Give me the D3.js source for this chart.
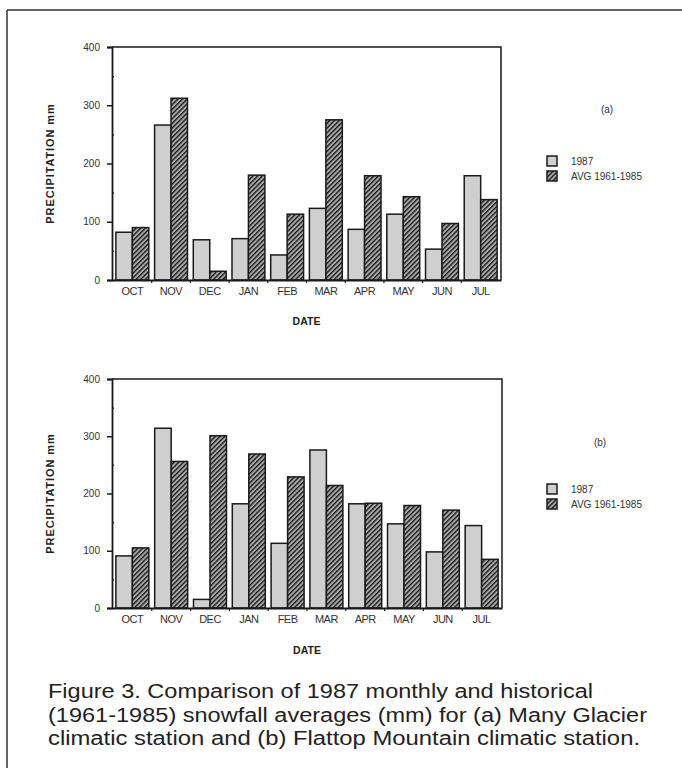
<!DOCTYPE html>
<html><head><meta charset="utf-8">
<script src="https://cdn.jsdelivr.net/npm/d3@7"></script>
<style>body{margin:0;background:#fff}svg{display:block}</style>
</head><body>
<svg id="c" width="682" height="768"></svg>
<script>
const months = ["OCT","NOV","DEC","JAN","FEB","MAR","APR","MAY","JUN","JUL"];
const seriesNames = ["1987","AVG 1961-1985"];
const yTicks = [0,100,200,300,400];
const a1987 = [82,266,69,71,43,123,87,113,53,179];
const aAvg  = [90,312,15,180,113,275,179,143,97,138];
const b1987 = [91,314,15,182,113,276,182,147,98,144];
const bAvg  = [105,256,301,269,229,214,183,179,171,85];
const panelLabels = ["(a)","(b)"];
const captionLines = [
 "Figure 3. Comparison of 1987 monthly and historical",
 "(1961-1985) snowfall averages (mm) for (a) Many Glacier",
 "climatic station and (b) Flattop Mountain climatic station."
];

const svg = d3.select("#c");
const ink = "#1a1a1a";
const defs = svg.append("defs");
const pat = defs.append("pattern").attr("id","hatch").attr("patternUnits","userSpaceOnUse")
  .attr("width",3.3).attr("height",3.3).attr("patternTransform","rotate(45)");
pat.append("rect").attr("width",3.3).attr("height",3.3).attr("fill","#a8a8a8");
pat.append("line").attr("x1",0).attr("y1",0).attr("x2",0).attr("y2",3.3)
  .attr("stroke","#111").attr("stroke-width",2.6);

svg.append("line").attr("x1",7).attr("x2",682).attr("y1",10).attr("y2",10).attr("stroke","#333").attr("stroke-width",1.5);
svg.append("line").attr("x1",7).attr("x2",7).attr("y1",10).attr("y2",768).attr("stroke","#333").attr("stroke-width",1.5);

const font = "Liberation Sans, Arial, sans-serif";

function panel(cfg){
  const {x0,x1,yBot,yTop,d1,d2,label,labelPos,legY,titleY} = cfg;
  const g = svg.append("g");
  const x = d3.scaleBand().domain(months).range([x0,x1]).paddingInner(0.15).paddingOuter(0.1);
  const xs = d3.scaleBand().domain([0,1]).range([0,x.bandwidth()]);
  const y = d3.scaleLinear().domain([0,400]).range([yBot,yTop]);
  const data = months.map((m,i)=>({m,v:[d1[i],d2[i]]}));
  const grp = g.selectAll("g.m").data(data).join("g").attr("transform",d=>`translate(${x(d.m)},0)`);
  grp.selectAll("rect").data(d=>d.v.map((v,k)=>({v,k}))).join("rect")
    .attr("x",d=>xs(d.k)).attr("width",xs.bandwidth())
    .attr("y",d=>y(d.v)).attr("height",d=>y(0)-y(d.v))
    .attr("fill",d=>d.k===0?"#cfcfcf":"url(#hatch)")
    .attr("stroke",ink).attr("stroke-width",1.5);
  g.append("path").attr("d",`M${x0},${y(400)}H${x1}V${y(0)}`).attr("fill","none").attr("stroke",ink).attr("stroke-width",1.5);
  const ya = g.append("g").attr("transform",`translate(${x0},0)`)
    .call(d3.axisLeft(y).tickValues(yTicks).tickSize(5).tickPadding(7));
  ya.select(".domain").attr("stroke",ink).attr("stroke-width",1.8);
  ya.selectAll(".tick line").attr("stroke",ink).attr("stroke-width",1.5);
  ya.selectAll("text").attr("font-family",font).attr("font-size",10).attr("fill","#333");
  const ym = g.append("g").attr("transform",`translate(${x0},0)`)
    .call(d3.axisRight(y).tickValues([50,150,250,350]).tickSize(2).tickFormat(""));
  ym.select(".domain").remove();
  ym.selectAll("line").attr("stroke",ink).attr("stroke-width",1.2);
  const xa = g.append("g").attr("transform",`translate(0,${y(0)})`)
    .call(d3.axisBottom(x).tickSize(0).tickPadding(7));
  xa.select(".domain").attr("stroke",ink).attr("stroke-width",1.8);
  xa.selectAll("text").attr("font-family",font).attr("font-size",11).attr("fill","#333")
    .attr("letter-spacing","-0.5");
  const bounds = months.slice(1).map(m=>x(m)-x.step()*x.paddingInner()/2);
  g.selectAll("line.bt").data(bounds).join("line").attr("class","bt")
    .attr("x1",d=>d).attr("x2",d=>d).attr("y1",y(0)).attr("y2",y(0)+3)
    .attr("stroke",ink).attr("stroke-width",1.2);
  g.append("text").attr("transform",`translate(54,${(yTop+yBot)/2}) rotate(-90)`)
    .attr("text-anchor","middle").attr("font-family",font).attr("font-size",11).attr("font-weight","bold")
    .attr("fill","#222").attr("letter-spacing","0.9").text("PRECIPITATION  mm");
  g.append("text").attr("x",(x0+x1)/2).attr("y",titleY).attr("text-anchor","middle")
    .attr("font-family",font).attr("font-size",10.5).attr("font-weight","bold").attr("fill","#222").text("DATE");
  g.append("text").attr("x",labelPos[0]).attr("y",labelPos[1]).attr("text-anchor","middle")
    .attr("font-family",font).attr("font-size",10).attr("fill","#333").text(label);
  seriesNames.forEach((s,k)=>{
    g.append("rect").attr("x",547).attr("y",legY+k*15).attr("width",10).attr("height",10)
      .attr("fill",k===0?"#cfcfcf":"url(#hatch)").attr("stroke",ink).attr("stroke-width",1.5);
    g.append("text").attr("x",571).attr("y",legY+k*15+9).attr("font-family",font).attr("font-size",10)
      .attr("fill","#333").text(s);
  });
}

panel({x0:112,x1:501,yBot:280,yTop:47,d1:a1987,d2:aAvg,label:panelLabels[0],labelPos:[607,113],legY:156,titleY:325});
panel({x0:112,x1:502,yBot:608,yTop:379,d1:b1987,d2:bAvg,label:panelLabels[1],labelPos:[600,446],legY:484,titleY:654});

const capW = [545,599,592];
captionLines.forEach((t,i)=>{
  svg.append("text").attr("x",48).attr("y",698+i*23.5)
    .attr("font-family","Liberation Sans, Arial, sans-serif")
    .attr("font-size",20).attr("fill","#222")
    .attr("textLength",capW[i]).attr("lengthAdjust","spacingAndGlyphs").text(t);
});
</script>
</body></html>
